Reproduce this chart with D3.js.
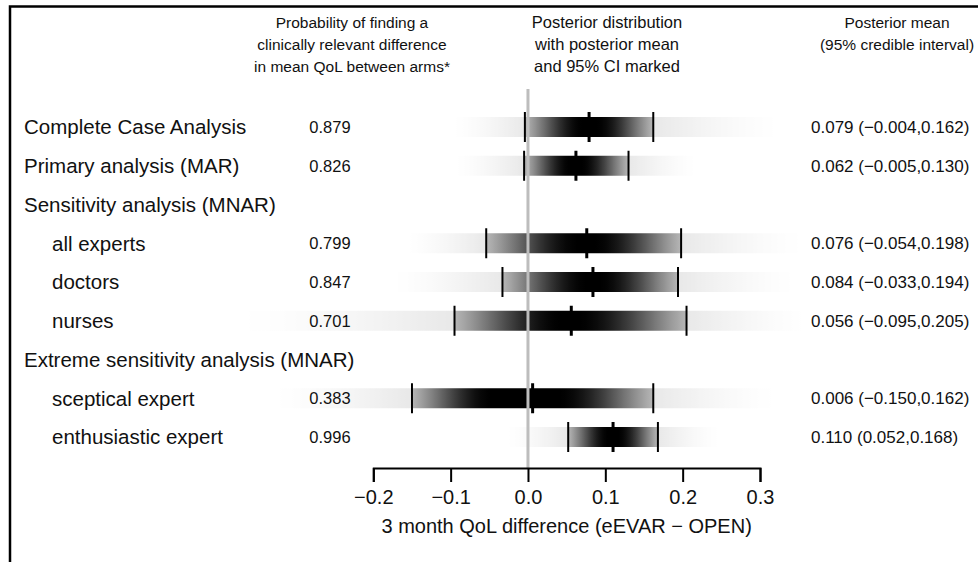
<!DOCTYPE html>
<html>
<head>
<meta charset="utf-8">
<script src="https://cdn.jsdelivr.net/npm/d3@7"></script>
<style>
  html, body { margin: 0; padding: 0; background: #fff; }
  svg { display: block; font-family: "Liberation Sans", Arial, Helvetica, sans-serif; }
</style>
</head>
<body>
<svg id="chart" width="978" height="562"></svg>
<script>
// ---------------- data ----------------
const rowLabels = [
  "Complete Case Analysis",
  "Primary analysis (MAR)",
  "Sensitivity analysis (MNAR)",
  "all experts",
  "doctors",
  "nurses",
  "Extreme sensitivity analysis (MNAR)",
  "sceptical expert",
  "enthusiastic expert"
];
const rowIndent = [false, false, false, true, true, true, false, true, true];
const probRelevant = [0.879, 0.826, null, 0.799, 0.847, 0.701, null, 0.383, 0.996];
const postMean  = [0.079, 0.062, null, 0.076, 0.084, 0.056, null, 0.006, 0.110];
const ciLower   = [-0.004, -0.005, null, -0.054, -0.033, -0.095, null, -0.150, 0.052];
const ciUpper   = [0.162, 0.130, null, 0.198, 0.194, 0.205, null, 0.162, 0.168];
// darkest part of each density strip
const peakLo    = [0.072, 0.056, null, 0.068, 0.078, 0.046, null, -0.045, 0.105];
const peakHi    = [0.088, 0.068, null, 0.084, 0.090, 0.062, null, 0.038, 0.115];
// faint tails of each strip
const tailLo    = [-0.100, -0.097, null, -0.160, -0.180, -0.380, null, -0.335, -0.030];
const tailHi    = [0.330, 0.220, null, 0.360, 0.350, 0.365, null, 0.325, 0.250];

const xTicks = [-0.2, -0.1, 0.0, 0.1, 0.2, 0.3];
const headerProb = ["Probability of finding a", "clinically relevant difference", "in mean QoL between arms*"];
const headerDist = ["Posterior distribution", "with posterior mean", "and 95% CI marked"];
const headerMean = ["Posterior mean", "(95% credible interval)"];
const xTitle = "3 month QoL difference (eEVAR \u2212 OPEN)";

// ---------------- layout ----------------
const svg = d3.select("#chart");
const x = d3.scaleLinear().domain([-0.2, 0.3]).range([373.3, 760]);
const y = d3.scaleLinear().domain([0, rowLabels.length - 1]).range([127, 437]);
const axisY = 468;
const stripH = 20;
const tickH = 15;

const fmt3 = d3.format(".3f");
const minus = s => s.replace("-", "\u2212");

// frame
svg.append("path")
  .attr("d", "M10,562V6.5H978")
  .attr("fill", "none").attr("stroke", "#000").attr("stroke-width", 2.5);

// headers
function header(lines, cx, size) {
  const t = svg.append("text").attr("text-anchor", "middle")
    .attr("font-size", size).attr("fill", "#111");
  lines.forEach((l, i) => t.append("tspan").attr("x", cx).attr("y", 28 + i * 22).text(l));
}
header(headerProb, 352, 15.5);
header(headerDist, 607, 16.5);
header(headerMean, 897, 15.5);

// gradients
const defs = svg.append("defs");
function density(i, v) {
  const m1 = peakLo[i], m2 = peakHi[i];
  if (v >= m1 && v <= m2) return 1;
  if (v < m1) {
    const sd = (m1 - ciLower[i]) / 1.96;
    const z = (v - m1) / sd; return Math.exp(-0.5 * z * z);
  }
  const sd = (ciUpper[i] - m2) / 1.96;
  const z = (v - m2) / sd; return Math.exp(-0.5 * z * z);
}
function shade(i, v) {
  const lo = ciLower[i], hi = ciUpper[i];
  let dark;
  if (v >= lo && v <= hi) {
    dark = Math.pow(density(i, v), 0.65);
  } else if (v < lo) {
    const t = (lo - v) / (lo - tailLo[i]);
    dark = 0.09 * Math.pow(Math.max(0, 1 - t), 1.5);
  } else {
    const t = (v - hi) / (tailHi[i] - hi);
    dark = 0.09 * Math.pow(Math.max(0, 1 - t), 1.5);
  }
  const g = Math.round(255 * (1 - dark));
  return `rgb(${g},${g},${g})`;
}

const rows = d3.range(rowLabels.length);
const dataRows = rows.filter(i => postMean[i] !== null);

dataRows.forEach(i => {
  const grad = defs.append("linearGradient")
    .attr("id", "g" + i).attr("gradientUnits", "userSpaceOnUse")
    .attr("x1", x(tailLo[i])).attr("x2", x(tailHi[i])).attr("y1", 0).attr("y2", 0);
  const a = tailLo[i], b = tailHi[i];
  const off = v => (v - a) / (b - a);
  const N = 200;
  const pts = [];
  for (let k = 0; k <= N; k++) pts.push(a + (b - a) * k / N);
  const lo = ciLower[i], hi = ciUpper[i];
  const stops = [];
  pts.forEach(v => { if (v < lo) stops.push([off(v), shade(i, v)]); });
  stops.push([off(lo), shade(i, lo - 1e-9)]);
  stops.push([off(lo), shade(i, lo)]);
  pts.forEach(v => { if (v > lo && v < hi) stops.push([off(v), shade(i, v)]); });
  stops.push([off(hi), shade(i, hi)]);
  stops.push([off(hi), shade(i, hi + 1e-9)]);
  pts.forEach(v => { if (v > hi) stops.push([off(v), shade(i, v)]); });
  grad.selectAll("stop").data(stops).join("stop")
    .attr("offset", d => d[0]).attr("stop-color", d => d[1]);
});

const g = svg.append("g");
// strips
g.selectAll("rect.strip").data(dataRows).join("rect")
  .attr("class", "strip")
  .attr("x", i => x(tailLo[i])).attr("width", i => x(tailHi[i]) - x(tailLo[i]))
  .attr("y", i => y(i) - stripH / 2).attr("height", stripH)
  .attr("fill", i => `url(#g${i})`);

// zero line (drawn over the strips, as in the reference)
svg.append("line")
  .attr("x1", x(0)).attr("x2", x(0)).attr("y1", 89).attr("y2", axisY)
  .attr("stroke", "#bdbdbd").attr("stroke-width", 3);

// CI ticks and mean ticks
const marks = svg.append("g");
dataRows.forEach(i => {
  [ciLower[i], ciUpper[i]].forEach(v => {
    marks.append("line").attr("x1", x(v)).attr("x2", x(v))
      .attr("y1", y(i) - tickH).attr("y2", y(i) + tickH)
      .attr("stroke", "#000").attr("stroke-width", 2);
  });
  marks.append("line").attr("x1", x(postMean[i])).attr("x2", x(postMean[i]))
    .attr("y1", y(i) - tickH).attr("y2", y(i) + tickH)
    .attr("stroke", "#000").attr("stroke-width", 3);
});

// row labels
svg.selectAll("text.rowlab").data(rows).join("text")
  .attr("class", "rowlab")
  .attr("x", i => rowIndent[i] ? 52 : 24)
  .attr("y", i => y(i)).attr("dy", "0.36em")
  .attr("font-size", 20.5).attr("fill", "#111")
  .text(i => rowLabels[i]);

// probabilities
svg.selectAll("text.prob").data(dataRows).join("text")
  .attr("class", "prob")
  .attr("x", 330).attr("y", i => y(i)).attr("dy", "0.36em")
  .attr("text-anchor", "middle").attr("font-size", 16.5).attr("fill", "#111")
  .text(i => fmt3(probRelevant[i]));

// posterior mean (CI)
svg.selectAll("text.pm").data(dataRows).join("text")
  .attr("class", "pm")
  .attr("x", 811).attr("y", i => y(i)).attr("dy", "0.36em")
  .attr("font-size", 17).attr("fill", "#111")
  .text(i => `${minus(fmt3(postMean[i]))} (${minus(fmt3(ciLower[i]))},${minus(fmt3(ciUpper[i]))})`);

// axis
const axis = d3.axisBottom(x).tickValues(xTicks).tickFormat(d3.format(".1f"))
  .tickSizeInner(14).tickSizeOuter(14).tickPadding(8);
const ax = svg.append("g").attr("transform", `translate(0,${axisY})`).call(axis);
ax.select(".domain").attr("stroke", "#000").attr("stroke-width", 2);
ax.selectAll(".tick line").attr("stroke", "#000").attr("stroke-width", 2);
ax.selectAll(".tick text").attr("font-size", 20).attr("fill", "#111")
  .attr("font-family", '"Liberation Sans", Arial, sans-serif');

svg.append("text").attr("x", (x(-0.2) + x(0.3)) / 2).attr("y", 533)
  .attr("text-anchor", "middle").attr("font-size", 20).attr("fill", "#111")
  .text(xTitle);
</script>
</body>
</html>
